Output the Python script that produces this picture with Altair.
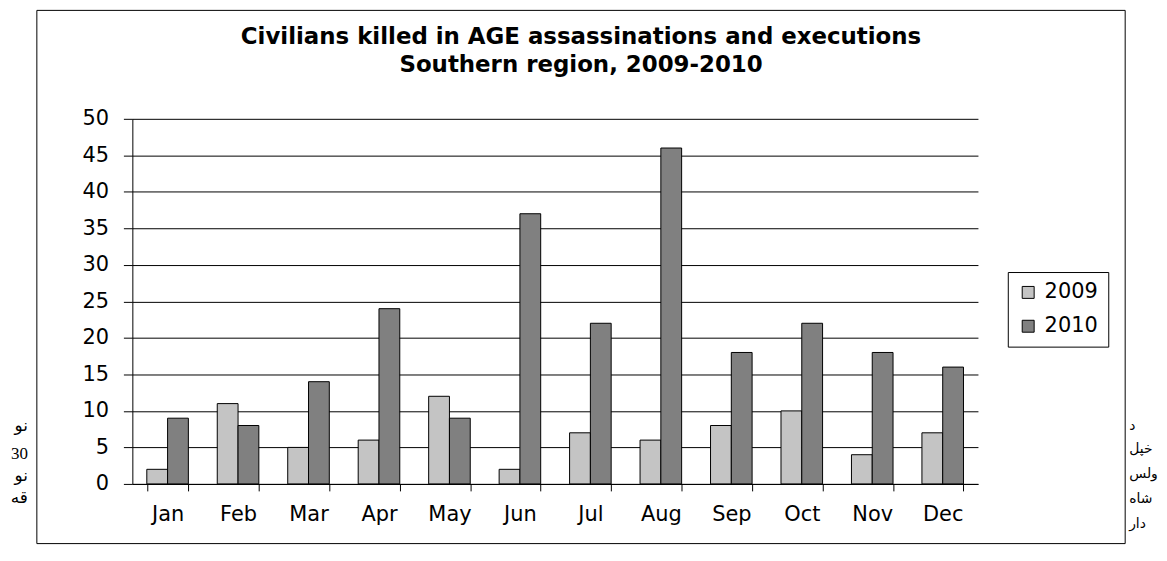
import altair as alt
import pandas as pd

months = ["Jan", "Feb", "Mar", "Apr", "May", "Jun", "Jul", "Aug", "Sep", "Oct", "Nov", "Dec"]
v2009 = [2, 11, 5, 6, 12, 2, 7, 6, 8, 10, 4, 7]
v2010 = [9, 8, 14, 24, 9, 37, 22, 46, 18, 22, 18, 16]
series = ["2009", "2010"]
colors = ["#c4c4c4", "#808080"]
title_lines = ["Civilians killed in AGE assassinations and executions", "Southern region, 2009-2010"]
left_fragments = ["نو", "30", "نو", "قه"]
right_fragments = ["د", "خپل", "ولس", "شاه", "دار"]

rows = []
for i, m in enumerate(months):
    rows.append({"month": m, "year": series[0], "value": v2009[i]})
    rows.append({"month": m, "year": series[1], "value": v2010[i]})
df = pd.DataFrame(rows)

FONT = "DejaVu Sans"

bars = alt.Chart(df).mark_bar(stroke="black", strokeWidth=1).encode(
    x=alt.X("month:N", sort=months,
            scale=alt.Scale(paddingInner=0.41, paddingOuter=0.205),
            axis=alt.Axis(title=None, labelAngle=0, tickBand="extent", tickSize=7,
                          labelPadding=13, domainColor="black", tickColor="black",
                          labelFontSize=21, labelFont=FONT, labelColor="black", grid=False)),
    xOffset=alt.XOffset("year:N", sort=series, scale=alt.Scale(paddingInner=0, paddingOuter=0)),
    y=alt.Y("value:Q", scale=alt.Scale(domain=[0, 50]),
            axis=alt.Axis(title=None, values=list(range(0, 51, 5)), tickSize=9, labelPadding=15,
                          grid=True, gridColor="black", gridOpacity=1, domainColor="black",
                          tickColor="black", labelFontSize=21, labelFont=FONT, labelColor="black")),
    color=alt.Color("year:N", sort=series, scale=alt.Scale(domain=series, range=colors),
                    legend=alt.Legend(title=None, orient="none", legendX=880, legendY=154,
                                      strokeColor="black", fillColor="white", padding=10,
                                      labelFontSize=21, labelFont=FONT, labelColor="black",
                                      symbolType="square", symbolSize=144,
                                      symbolStrokeColor="black", symbolStrokeWidth=1,
                                      rowPadding=12, labelOffset=6)),
)

frame = alt.Chart(alt.Data(values=[{}])).mark_rect(fill=None, stroke="black", strokeWidth=1).encode(
    x=alt.value(-96), x2=alt.value(998), y=alt.value(-109), y2=alt.value(427)
)

layers = [frame, bars]

# two-line chart title, centred on the outer frame
for t, yy in zip(title_lines, [-82, -54]):
    layers.append(alt.Chart(alt.Data(values=[{}])).mark_text(
        text=t, align="center", baseline="middle", fontSize=23, font=FONT,
        fontWeight="bold", color="black"
    ).encode(x=alt.value(451), y=alt.value(yy)))

left_y = [309, 337, 359, 381]
for t, yy in zip(left_fragments, left_y):
    layers.append(alt.Chart(alt.Data(values=[{}])).mark_text(
        text=t, align="right", baseline="middle", fontSize=17,
        font="Liberation Serif" if t.isdigit() else "DejaVu Sans", color="black"
    ).encode(x=alt.value(-105), y=alt.value(yy)))
right_y = [309, 332, 357, 382, 407]
for t, yy in zip(right_fragments, right_y):
    layers.append(alt.Chart(alt.Data(values=[{}])).mark_text(
        text=t, align="left", baseline="middle", fontSize=14, font="DejaVu Sans", color="black"
    ).encode(x=alt.value(1002), y=alt.value(yy)))

chart = alt.layer(*layers).properties(
    width=850, height=367,
    autosize=alt.AutoSizeParams(type="none"),
    padding={"left": 125, "top": 110, "right": 182, "bottom": 60},
    background="white",
).configure_view(stroke=None)

chart.save("out.html", embed_options={"renderer": "svg", "actions": False})
